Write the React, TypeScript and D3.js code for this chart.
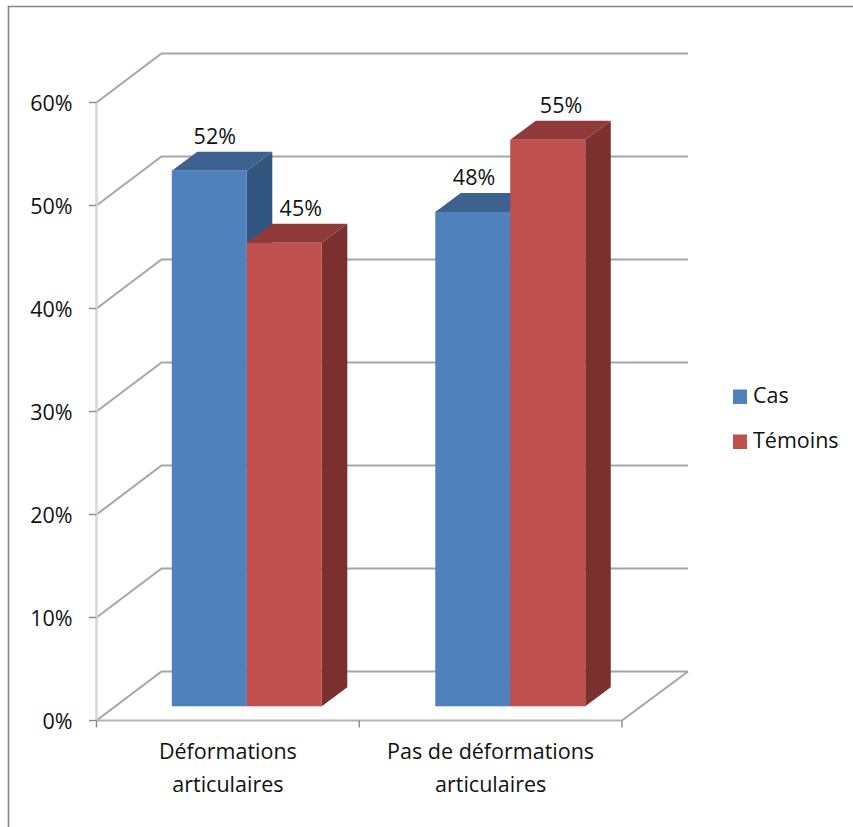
import React from "react";
import * as d3 from "d3";

const categories = [["Déformations", "articulaires"], ["Pas de déformations", "articulaires"]];
const seriesNames = ["Cas", "Témoins"];
const casValues = [0.52, 0.48];
const temoinsValues = [0.45, 0.55];
const yTicks = [0, 0.1, 0.2, 0.3, 0.4, 0.5, 0.6];

const faces = [
  { front: "#4f81bd", top: "#3e628f", side: "#335680" },
  { front: "#c0504d", top: "#8f3a38", side: "#7b2f2e" },
];

const FONT = "'Open Sans', Lato, sans-serif";
const GRID = "#a6a6a6";
const FONT_SIZE = 21.5;

// Plot geometry: the front plane of the 3D box and its receding offset.
const left = 96.5, right = 622, base = 720.5, top = 102.5;
const wallDx = 65, wallDy = 49;
const barDx = 25.5, barDy = 19;
const barLift = 14.2;
const barInset = 75.3;
const barW = 75;

const y = d3.scaleLinear().domain([0, 0.6]).range([base, top]);
const x = d3.scaleBand<number>().domain([0, 1]).range([left, right]);

// Horizontal nudges for the value labels above each bar (group, then series).
const labelShift = [[5.5, 16.5], [2, 14]];

const poly = (pts: [number, number][]) => pts.map((p) => p.join(",")).join(" ");

export default function App() {
  const series = [casValues, temoinsValues];
  const pct = d3.format(".0%");
  const bandStarts = [0, 1].map((c) => x(c) as number);

  return (
    <svg width={853} height={827} style={{ position: "absolute", left: 0, top: 0, background: "#fff" }} fontFamily={FONT} fill="#111">
      <path d="M8.5 827V6.5H853" fill="none" stroke="#868686" strokeWidth={1.6} />

      {/* back wall and side wall gridlines */}
      {yTicks.map((t) => (
        <g key={t} fill="none" stroke={GRID} strokeWidth={2}>
          <polyline points={poly([[left, y(t)], [left + wallDx, y(t) - wallDy], [right + wallDx + 1, y(t) - wallDy]])} />
        </g>
      ))}

      {/* axes */}
      <line x1={left} x2={left} y1={top} y2={base} stroke="#d9d9d9" strokeWidth={2.6} />
      <line x1={left} x2={right} y1={base} y2={base} stroke="#b5b5b5" strokeWidth={2} />
      <line x1={right} x2={right + wallDx + 1} y1={base} y2={base - wallDy} stroke={GRID} strokeWidth={2} />
      {yTicks.map((t) => (
        <line key={t} x1={89} x2={left} y1={y(t)} y2={y(t)} stroke="#8c8c8c" strokeWidth={1.4} />
      ))}
      {[left, x(1) as number, right].map((v) => (
        <line key={v} x1={v} x2={v} y1={base} y2={base + 7} stroke="#8c8c8c" strokeWidth={1.4} />
      ))}

      {yTicks.map((t) => (
        <text key={t} x={72.5} y={y(t) + 8.5} textAnchor="end" fontSize={FONT_SIZE}>{pct(t)}</text>
      ))}

      {/* bars: series are painted left to right so the red front hides the blue side */}
      {series.map((values, s) =>
        values.map((v, c) => {
          const x0 = bandStarts[c] + barInset + (c === 1 ? 0.7 : 0) + s * barW;
          const x1 = x0 + barW;
          const y1 = y(0) - barLift;
          const y0 = y(v) - barLift;
          const f = faces[s];
          return (
            <g key={`${s}-${c}`}>
              <polygon fill={f.side} points={poly([[x1, y0], [x1 + barDx, y0 - barDy], [x1 + barDx, y1 - barDy], [x1, y1]])} />
              <polygon fill={f.top} points={poly([[x0, y0], [x0 + barDx, y0 - barDy], [x1 + barDx, y0 - barDy], [x1, y0]])} />
              <rect x={x0} y={y0} width={barW} height={y1 - y0} fill={f.front} />
            </g>
          );
        })
      )}

      {series.map((values, s) =>
        values.map((v, c) => {
          const x0 = bandStarts[c] + barInset + s * barW;
          return (
            <text key={`${s}-${c}`} x={x0 + barW / 2 + labelShift[c][s]} y={y(v) - barLift - 26.8} textAnchor="middle" fontSize={FONT_SIZE}>
              {pct(v)}
            </text>
          );
        })
      )}

      {categories.map((lines, c) =>
        lines.map((line, i) => (
          <text key={line} x={bandStarts[c] + x.bandwidth() / 2} y={759 + i * 32.5} textAnchor="middle" fontSize={FONT_SIZE}>{line}</text>
        ))
      )}

      {seriesNames.map((name, s) => (
        <g key={name}>
          <rect x={733} y={389.5 + s * 45} width={14} height={14.5} fill={faces[s].front} />
          <text x={753} y={403 + s * 45} fontSize={FONT_SIZE}>{name}</text>
        </g>
      ))}
    </svg>
  );
}
